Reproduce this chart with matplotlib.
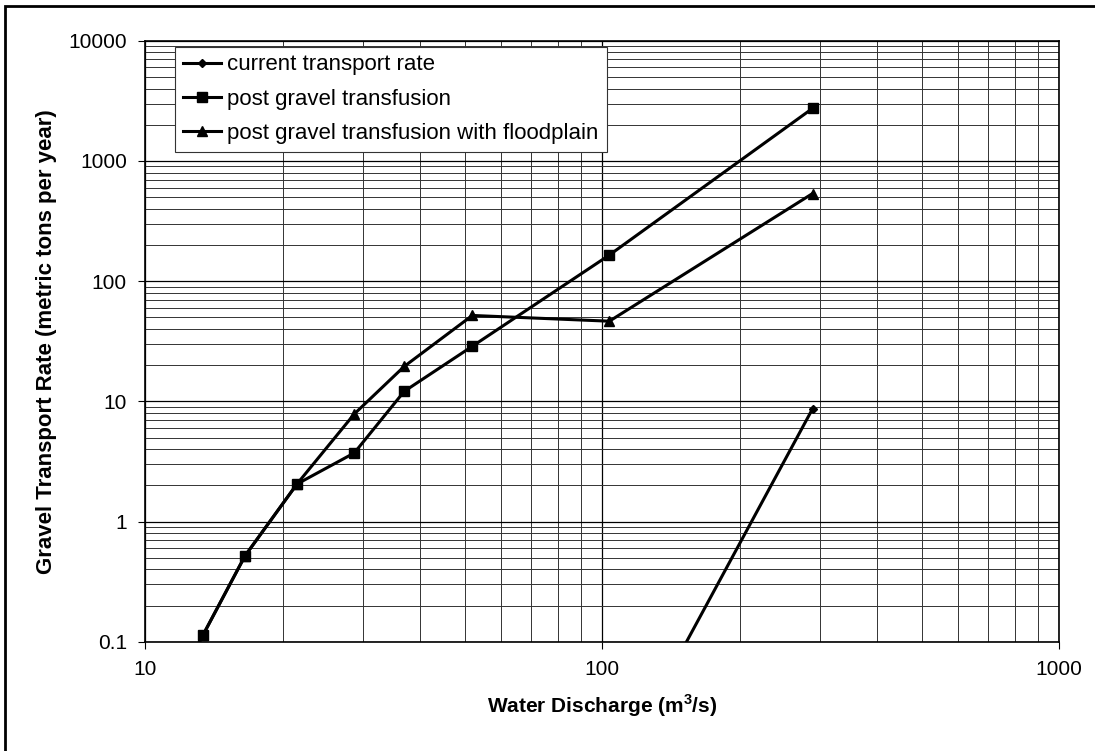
import numpy as np
import matplotlib
matplotlib.use('Agg')
import matplotlib.pyplot as plt
from matplotlib.patches import Rectangle
from matplotlib.ticker import LogLocator, FuncFormatter, NullFormatter

plt.rcParams['font.family'] = ['Liberation Sans', 'DejaVu Sans']
plt.rcParams['mathtext.fontset'] = 'custom'
plt.rcParams['mathtext.rm'] = 'Liberation Sans'
plt.rcParams['mathtext.bf'] = 'Liberation Sans:bold'

# data (discharge m3/s, transport t/yr)
q_current = [103.7, 288.5]
current = [0.0065, 8.65]

q_post = [11.8, 13.4, 16.55, 21.5, 28.7, 36.9, 52.0, 103.7, 288.5]
post = [0.045, 0.114, 0.518, 2.05, 3.72, 12.1, 28.7, 164.8, 2734]
post_fp = [0.045, 0.114, 0.518, 2.05, 7.85, 19.5, 51.8, 46.4, 535]

labels = ['current transport rate', 'post gravel transfusion',
          'post gravel transfusion with floodplain']

fig = plt.figure(figsize=(10.95, 7.51), dpi=100)
ax = fig.add_axes([0.1324, 0.1455, 0.835, 0.8003])

ax.plot(q_current, current, color='black', lw=2.2, marker='D', ms=4.5,
        label=labels[0])
ax.plot(q_post, post, color='black', lw=2.2, marker='s', ms=6.5,
        label=labels[1])
ax.plot(q_post, post_fp, color='black', lw=2.2, marker='^', ms=6.5,
        label=labels[2])

ax.set_xscale('log')
ax.set_yscale('log')
ax.set_xlim(10, 1000)
ax.set_ylim(0.1, 10000)

fmt = FuncFormatter(lambda v, p: '{:g}'.format(v))
ax.xaxis.set_major_locator(LogLocator(base=10, numticks=10))
ax.yaxis.set_major_locator(LogLocator(base=10, numticks=10))
ax.xaxis.set_minor_locator(LogLocator(base=10, subs=np.arange(2, 10), numticks=20))
ax.yaxis.set_minor_locator(LogLocator(base=10, subs=np.arange(2, 10), numticks=20))
ax.xaxis.set_major_formatter(fmt)
ax.yaxis.set_major_formatter(fmt)
ax.xaxis.set_minor_formatter(NullFormatter())
ax.yaxis.set_minor_formatter(NullFormatter())

ax.grid(which='major', color='black', lw=0.9)
ax.grid(which='minor', color='#333333', lw=0.7)
ax.set_axisbelow(True)
ax.tick_params(which='major', direction='out', length=5, width=0.8,
               labelsize=15, pad=8)
ax.tick_params(which='minor', length=0)
for s in ax.spines.values():
    s.set_linewidth(1.2)

ax.set_xlabel(r'Water Discharge (m$^{\mathbf{3}}$/s)', fontsize=15,
              fontweight='bold', labelpad=10)
ax.set_ylabel('Gravel Transport Rate (metric tons per year)', fontsize=16,
              fontweight='bold', labelpad=8)

leg = ax.legend(loc='upper left', bbox_to_anchor=(0.033, 0.99), fontsize=16,
                frameon=True, fancybox=False, framealpha=1, edgecolor='#333333',
                handlelength=1.7, handletextpad=0.3, borderpad=0.35,
                labelspacing=0.6, borderaxespad=0)
leg.get_frame().set_linewidth(0.8)

fig.add_artist(Rectangle((5 / 1095, -0.1), 2, 1.1 - 6 / 751, transform=fig.transFigure,
                         fill=False, lw=2, color='black'))

fig.savefig('out.png', dpi=100)
